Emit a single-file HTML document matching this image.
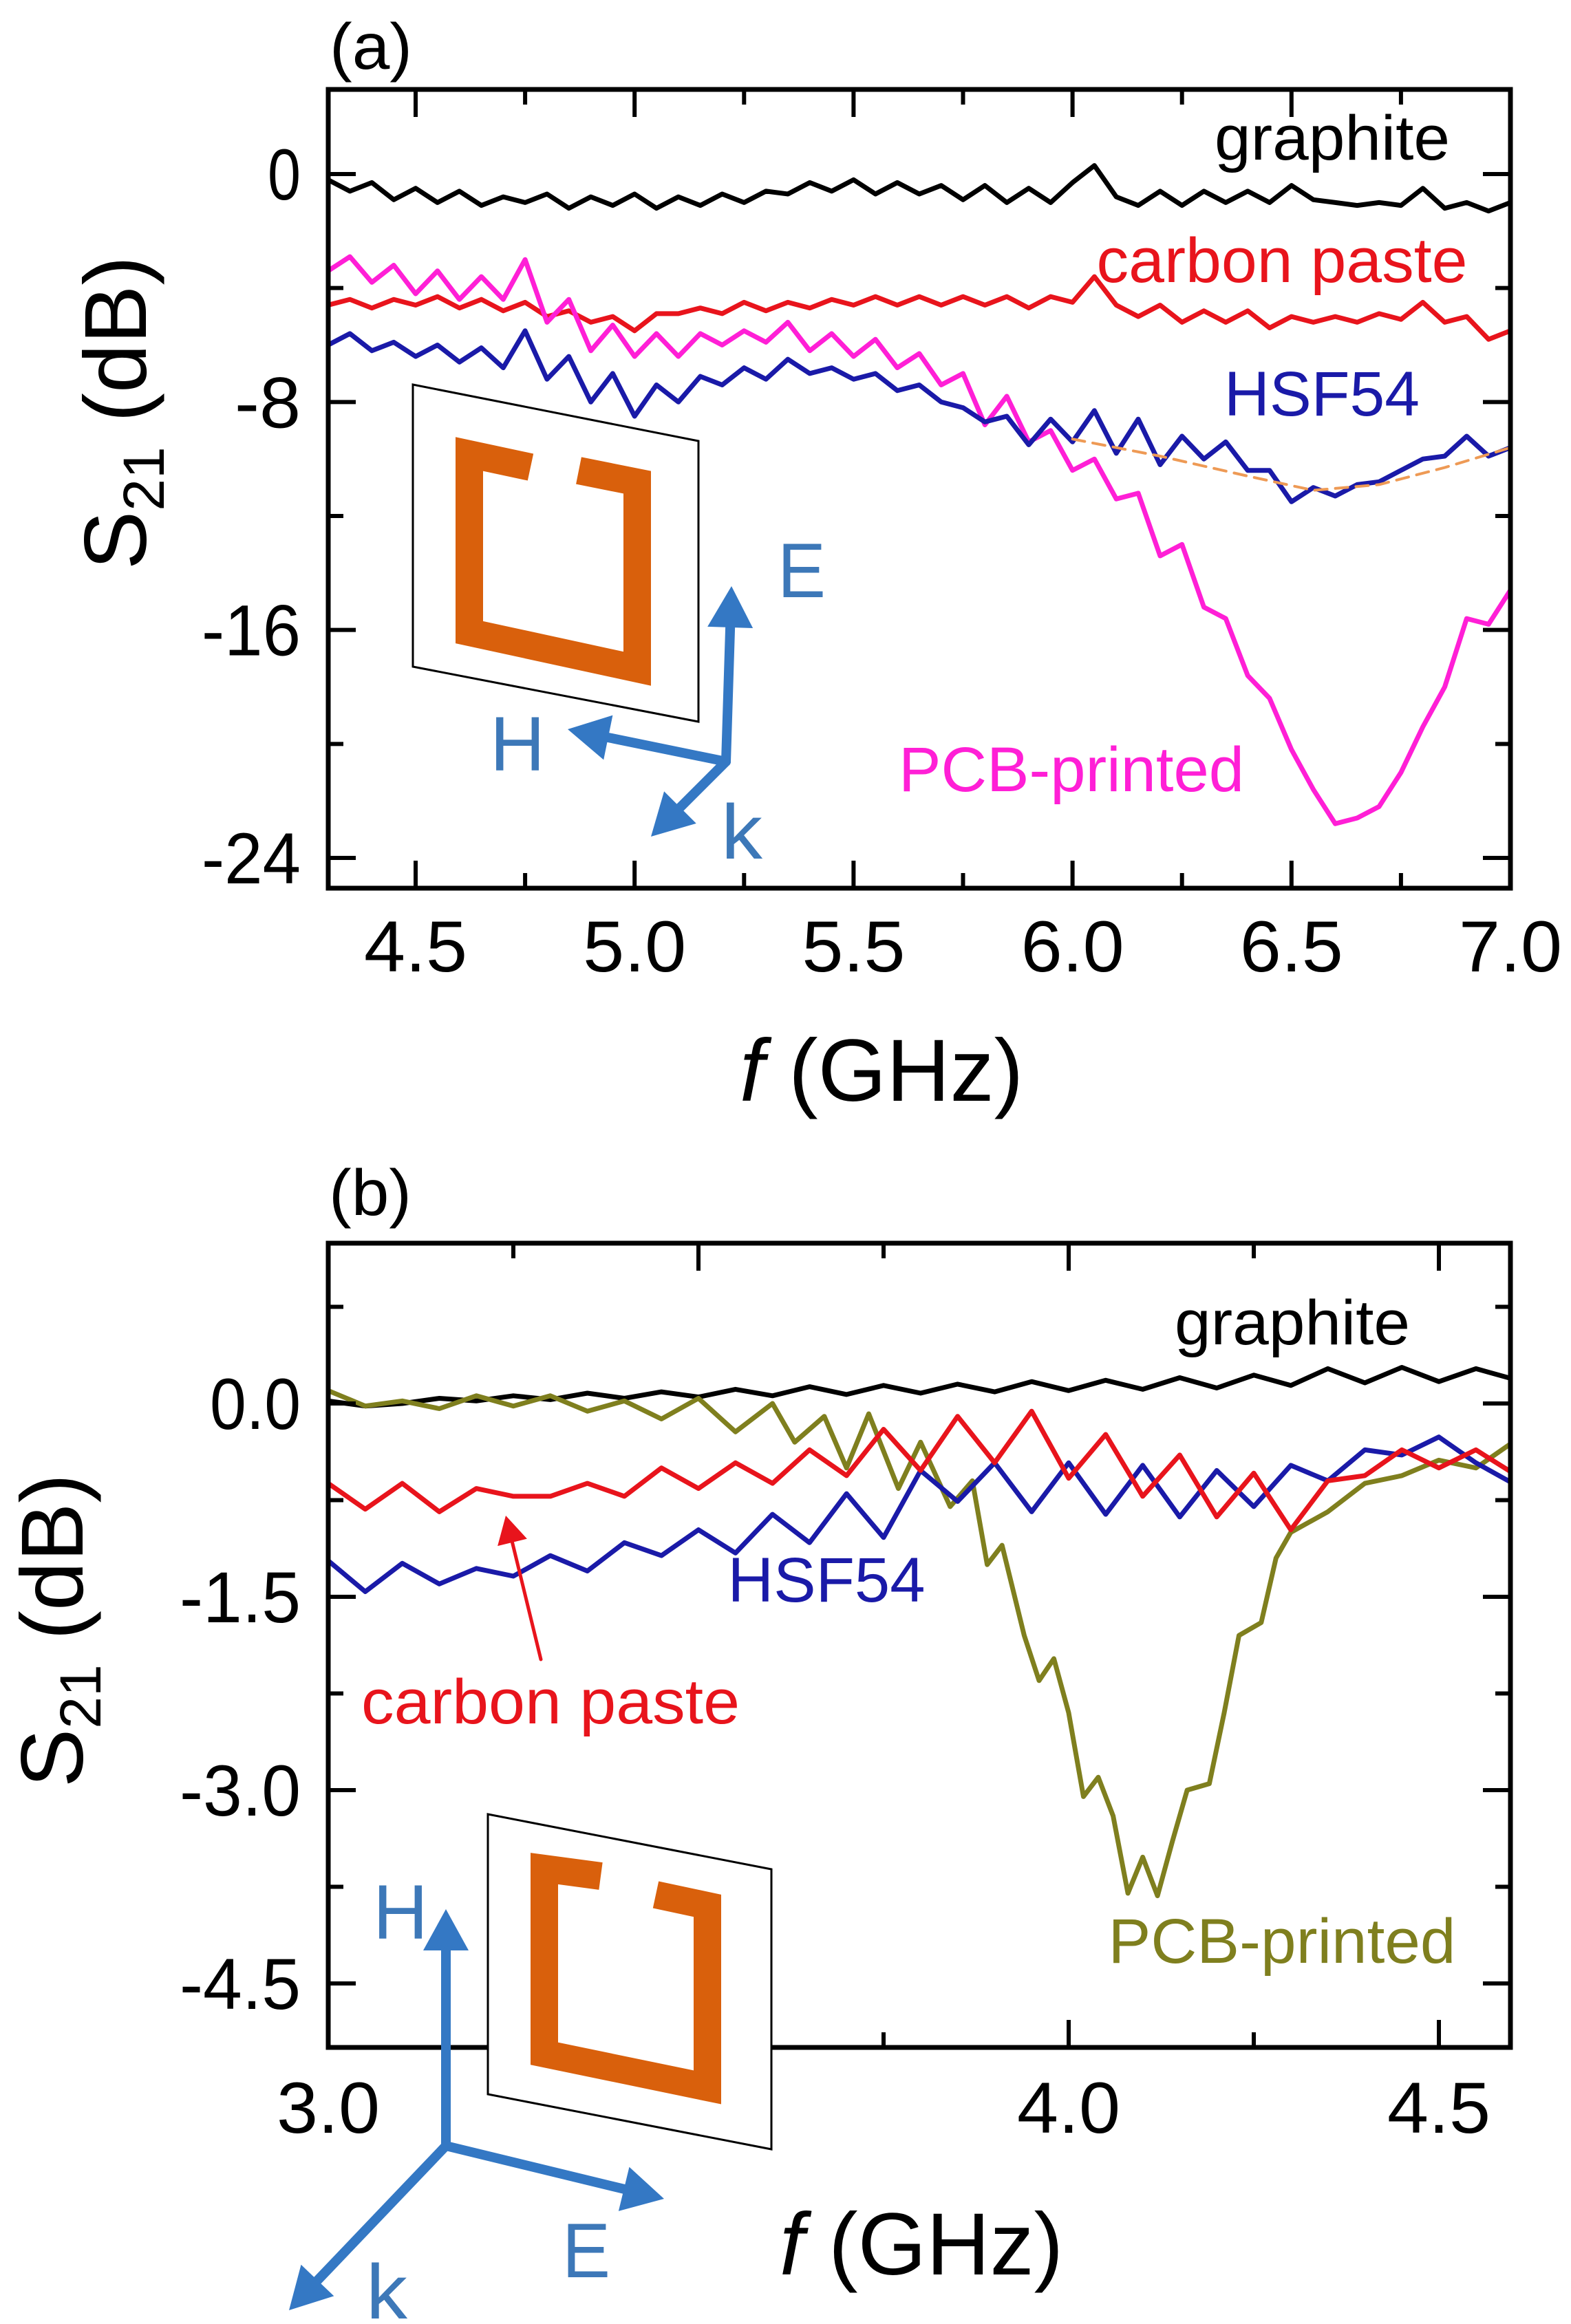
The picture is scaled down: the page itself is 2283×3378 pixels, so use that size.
<!DOCTYPE html>
<html><head><meta charset="utf-8"><style>
html,body{margin:0;padding:0;background:#fff;}
svg{display:block;font-family:"Liberation Sans",sans-serif;}
</style></head><body>
<svg id="fig" width="2283" height="3378" viewBox="0 0 2283 3378" xmlns="http://www.w3.org/2000/svg">
<rect width="2283" height="3378" fill="#fff"/>
<g id="pa"></g>
<g id="pb"></g>
</svg>
<script>
// ---------- Panel (a) data ----------
const freqA = [4.30,4.35,4.40,4.45,4.50,4.55,4.60,4.65,4.70,4.75,4.80,4.85,4.90,4.95,5.00,5.05,5.10,5.15,5.20,5.25,5.30,5.35,5.40,5.45,5.50,5.55,5.60,5.65,5.70,5.75,5.80,5.85,5.90,5.95,6.00,6.05,6.10,6.15,6.20,6.25,6.30,6.35,6.40,6.45,6.50,6.55,6.60,6.65,6.70,6.75,6.80,6.85,6.90,6.95,7.00];
const graphiteA = [-0.2,-0.6,-0.3,-0.9,-0.5,-1.0,-0.6,-1.1,-0.8,-1.0,-0.7,-1.2,-0.8,-1.1,-0.7,-1.2,-0.8,-1.1,-0.7,-1.0,-0.6,-0.7,-0.3,-0.6,-0.2,-0.7,-0.3,-0.7,-0.4,-0.9,-0.4,-1.0,-0.5,-1.0,-0.3,0.3,-0.8,-1.1,-0.6,-1.1,-0.6,-1.0,-0.6,-1.0,-0.4,-0.9,-1.0,-1.1,-1.0,-1.1,-0.5,-1.2,-1.0,-1.3,-1.0];
const carbonA = [-4.6,-4.4,-4.7,-4.4,-4.6,-4.3,-4.7,-4.4,-4.8,-4.5,-5.0,-4.8,-5.2,-5.0,-5.5,-4.9,-4.9,-4.7,-4.9,-4.5,-4.8,-4.5,-4.7,-4.4,-4.6,-4.3,-4.6,-4.3,-4.6,-4.3,-4.6,-4.3,-4.7,-4.3,-4.5,-3.6,-4.6,-5.0,-4.6,-5.2,-4.8,-5.2,-4.8,-5.4,-5.0,-5.2,-5.0,-5.2,-4.9,-5.1,-4.5,-5.2,-5.0,-5.8,-5.5];
const hsfA = [-6.0,-5.6,-6.2,-5.9,-6.4,-6.0,-6.6,-6.1,-6.8,-5.5,-7.2,-6.4,-8.0,-7.0,-8.5,-7.4,-8.0,-7.1,-7.4,-6.8,-7.2,-6.5,-7.0,-6.8,-7.2,-7.0,-7.6,-7.4,-8.0,-8.2,-8.7,-8.5,-9.5,-8.6,-9.4,-8.3,-9.8,-8.6,-10.2,-9.2,-10.0,-9.4,-10.4,-10.4,-11.5,-11.0,-11.3,-10.9,-10.8,-10.4,-10.0,-9.9,-9.2,-9.9,-9.6];
const pcbA = [-3.4,-2.9,-3.8,-3.2,-4.2,-3.4,-4.4,-3.6,-4.4,-3.0,-5.2,-4.4,-6.2,-5.3,-6.4,-5.6,-6.4,-5.6,-6.0,-5.5,-5.9,-5.2,-6.2,-5.6,-6.4,-5.8,-6.8,-6.3,-7.4,-7.0,-8.8,-7.8,-9.4,-9.0,-10.4,-10.0,-11.4,-11.2,-13.4,-13.0,-15.2,-15.6,-17.6,-18.4,-20.2,-21.6,-22.8,-22.6,-22.2,-21.0,-19.4,-18.0,-15.6,-15.8,-14.6];
const fitFreqA = [6.0,6.2,6.4,6.55,6.7,6.85,7.0];
const fitA = [-9.3,-9.9,-10.6,-11.1,-10.9,-10.3,-9.6];
const xTicksA = [4.5,5.0,5.5,6.0,6.5,7.0];
const xTickLabelsA = ["4.5","5.0","5.5","6.0","6.5","7.0"];
const yTicksA = [0,-8,-16,-24];
const yTickLabelsA = ["0","-8","-16","-24"];

// ---------- Panel (b) data ----------
const freqB = [3.00,3.05,3.10,3.15,3.20,3.25,3.30,3.35,3.40,3.45,3.50,3.55,3.60,3.65,3.70,3.75,3.80,3.85,3.90,3.95,4.00,4.05,4.10,4.15,4.20,4.25,4.30,4.35,4.40,4.45,4.50,4.55,4.60];
const graphiteB = [0.02,-0.02,0.0,0.04,0.02,0.06,0.03,0.08,0.04,0.09,0.05,0.11,0.06,0.13,0.07,0.14,0.08,0.15,0.09,0.17,0.10,0.18,0.11,0.20,0.12,0.22,0.14,0.27,0.16,0.28,0.17,0.27,0.19];
const carbonB = [-0.62,-0.82,-0.62,-0.84,-0.66,-0.72,-0.72,-0.62,-0.72,-0.50,-0.66,-0.46,-0.62,-0.36,-0.56,-0.20,-0.52,-0.10,-0.46,-0.06,-0.58,-0.24,-0.72,-0.40,-0.88,-0.54,-0.98,-0.60,-0.56,-0.36,-0.50,-0.36,-0.54];
const hsfB = [-1.22,-1.46,-1.24,-1.40,-1.28,-1.34,-1.18,-1.30,-1.08,-1.18,-0.98,-1.16,-0.86,-1.08,-0.70,-1.04,-0.52,-0.76,-0.46,-0.84,-0.46,-0.86,-0.48,-0.88,-0.52,-0.80,-0.48,-0.60,-0.36,-0.40,-0.26,-0.46,-0.62];
const pcbFreqB = [3.00,3.05,3.10,3.15,3.20,3.25,3.30,3.35,3.40,3.45,3.50,3.55,3.60,3.63,3.67,3.70,3.73,3.77,3.80,3.84,3.87,3.89,3.91,3.94,3.96,3.98,4.00,4.02,4.04,4.06,4.08,4.10,4.12,4.14,4.16,4.19,4.21,4.23,4.26,4.28,4.30,4.35,4.40,4.45,4.50,4.55,4.60];
const pcbB = [0.10,-0.02,0.02,-0.04,0.06,-0.02,0.06,-0.06,0.02,-0.12,0.04,-0.22,0.0,-0.30,-0.10,-0.50,-0.08,-0.66,-0.30,-0.80,-0.60,-1.25,-1.10,-1.80,-2.15,-1.98,-2.40,-3.05,-2.90,-3.20,-3.80,-3.52,-3.82,-3.40,-3.00,-2.95,-2.40,-1.80,-1.70,-1.20,-1.00,-0.84,-0.62,-0.56,-0.44,-0.50,-0.30];
const xTicksB = [3.0,4.0,4.5];
const xTickLabelsB = ["3.0","4.0","4.5"];
const yTicksB = [0,-1.5,-3.0,-4.5];
const yTickLabelsB = ["0.0","-1.5","-3.0","-4.5"];

const NS = "http://www.w3.org/2000/svg";
function mk(parent, tag, attrs, text){
  const e = document.createElementNS(NS, tag);
  for (const k in attrs) e.setAttribute(k, attrs[k]);
  if (text !== undefined) e.textContent = text;
  parent.appendChild(e);
  return e;
}
function scale(d0,d1,r0,r1){ return v => r0 + (v-d0)*(r1-r0)/(d1-d0); }

function drawAxes(g, X, Y, box, xMajor, xMinor, yMajor, yMinor){
  const [L,T,R,B] = box;
  const ax = mk(g,'g',{});
  
  
  xMajor.forEach(v=>{ const x=X(v);
    mk(ax,'line',{x1:x,y1:B,x2:x,y2:B-40,stroke:'#000','stroke-width':6});
    mk(ax,'line',{x1:x,y1:T,x2:x,y2:T+40,stroke:'#000','stroke-width':6}); });
  xMinor.forEach(v=>{ const x=X(v);
    mk(ax,'line',{x1:x,y1:B,x2:x,y2:B-22,stroke:'#000','stroke-width':6});
    mk(ax,'line',{x1:x,y1:T,x2:x,y2:T+22,stroke:'#000','stroke-width':6}); });
  yMajor.forEach(v=>{ const y=Y(v);
    mk(ax,'line',{x1:L,y1:y,x2:L+40,y2:y,stroke:'#000','stroke-width':6});
    mk(ax,'line',{x1:R,y1:y,x2:R-40,y2:y,stroke:'#000','stroke-width':6}); });
  yMinor.forEach(v=>{ const y=Y(v);
    mk(ax,'line',{x1:L,y1:y,x2:L+22,y2:y,stroke:'#000','stroke-width':6});
    mk(ax,'line',{x1:R,y1:y,x2:R-22,y2:y,stroke:'#000','stroke-width':6}); });
  const frame = mk(g,'rect',{x:L,y:T,width:R-L,height:B-T,fill:'none',stroke:'#000','stroke-width':7});
  
  
}
function series(g, X, Y, xs, ys, color, name, extra){
  const n = Math.min(xs.length, ys.length);
  let pts = [];
  for (let i=0;i<n;i++) pts.push(X(xs[i]).toFixed(1)+','+Y(ys[i]).toFixed(1));
  const p = mk(g,'polyline',Object.assign({points:pts.join(' '),fill:'none',stroke:color,'stroke-width':7,'stroke-linejoin':'round','stroke-linecap':'round'}, extra||{}));
  
  
  return p;
}
function label(g, x, y, txt, color, size, width, name, anchor){
  const t = mk(g,'text',{x:x,y:y,fill:color,'font-size':size,'text-anchor':anchor||'middle',textLength:width,lengthAdjust:'spacingAndGlyphs'},txt);
  
  
  return t;
}
function arrow(g, x1,y1,x2,y2,color,w,head,name){
  const a = Math.atan2(y2-y1,x2-x1);
  const bx = x2 - head*Math.cos(a), by = y2 - head*Math.sin(a);
  const grp = mk(g,'g',{});
  
  
  mk(grp,'line',{x1:x1,y1:y1,x2:bx,y2:by,stroke:color,'stroke-width':w,'stroke-linecap':'round'});
  const hw = head*0.55;
  const p1 = (bx - hw*Math.sin(a))+','+(by + hw*Math.cos(a));
  const p2 = (bx + hw*Math.sin(a))+','+(by - hw*Math.cos(a));
  mk(grp,'polygon',{points:x2+','+y2+' '+p1+' '+p2,fill:color});
}
const BLUE = '#3478c4', ORANGE = '#d9600c';

// ================= Panel A =================
(function(){
  const g = document.getElementById('pa');
  const box = [477,130,2195,1291];
  const X = scale(4.5,7.0,604,2195);
  const Y = scale(0,-24,253,1247);
  const defs = mk(g,'defs',{});
  const cp = mk(defs,'clipPath',{id:'clipA'});
  mk(cp,'rect',{x:box[0],y:box[1],width:box[2]-box[0],height:box[3]-box[1]});
  const data = mk(g,'g',{'clip-path':'url(#clipA)'});
  series(data,X,Y,freqA,graphiteA,'#000','graphite-line-a');
  series(data,X,Y,freqA,carbonA,'#e8141c','carbon-paste-line-a');
  series(data,X,Y,freqA,pcbA,'#ff1fd6','pcb-printed-line-a');
  series(data,X,Y,freqA,hsfA,'#1a1aa8','hsf54-line-a');
  series(data,X,Y,fitFreqA,fitA,'#ee9a55','fit-dashed-line-a',{'stroke-dasharray':'18 12','stroke-width':4});
  drawAxes(g,X,Y,box,xTicksA,[4.75,5.25,5.75,6.25,6.75],yTicksA,[-4,-12,-20]);
  xTicksA.forEach((v,i)=>{ label(g,X(v),1412,xTickLabelsA[i],'#000',105,150,'x-tick-label-a'); });
  yTicksA.forEach((v,i)=>{ const s=yTickLabelsA[i]; label(g,437,Y(v)+37,s,'#000',105,s.length*48,'y-tick-label-a','end'); });
  label(g,539,100,'(a)','#000',95,120,'panel-label-a');
  const xl = mk(g,'text',{x:1281,y:1600,'font-size':128,'text-anchor':'middle',fill:'#000'});
   
  mk(xl,'tspan',{'font-style':'italic'},'f');
  mk(xl,'tspan',{},' (GHz)');
  const yl = mk(g,'text',{x:0,y:0,'font-size':128,'text-anchor':'middle',fill:'#000',transform:'translate(212,600) rotate(-90)'});
   
  mk(yl,'tspan',{},'S');
  mk(yl,'tspan',{'font-size':84,dy:26},'21');
  mk(yl,'tspan',{dy:-26},' (dB)');
  label(g,1936,232,'graphite','#000',92,342,'legend-graphite-a');
  label(g,1863,410,'carbon paste','#e8141c',92,539,'legend-carbon-paste-a');
  label(g,1921,604,'HSF54','#1a1aa8',92,284,'legend-hsf54-a');
  label(g,1557,1150,'PCB-printed','#ff1fd6',92,502,'legend-pcb-printed-a');
  const ins = mk(g,'g',{});  
  mk(ins,'polygon',{points:'600,559 1015,641 1015,1049 600,969',fill:'none',stroke:'#000','stroke-width':3});
  mk(ins,'polyline',{points:'771,679 682,660 682,919 926,972 926,701 841,684',fill:'none',stroke:ORANGE,'stroke-width':40,'stroke-linejoin':'miter'});
  arrow(ins,1055,1107,1063,852,BLUE,14,60,'e-field-arrow-a');
  arrow(ins,1055,1107,825,1060,BLUE,14,60,'h-field-arrow-a');
  arrow(ins,1055,1107,946,1216,BLUE,14,60,'k-vector-arrow-a');
  label(ins,1130,868,'E','#3d78b8',112,70,'e-label-a','start');
  label(ins,752,1120,'H','#3d78b8',112,80,'h-label-a','middle');
  label(ins,1078,1248,'k','#3d78b8',112,60,'k-label-a','middle');
})();

// ================= Panel B =================
(function(){
  const g = document.getElementById('pb');
  const box = [477,1807,2195,2976];
  const X = scale(3.0,4.5,477,2091);
  const Y = scale(0,-4.5,2040,2883);
  const defs = mk(g,'defs',{});
  const cp = mk(defs,'clipPath',{id:'clipB'});
  mk(cp,'rect',{x:box[0],y:box[1],width:box[2]-box[0],height:box[3]-box[1]});
  const data = mk(g,'g',{'clip-path':'url(#clipB)'});
  series(data,X,Y,freqB,graphiteB,'#000','graphite-line-b');
  series(data,X,Y,pcbFreqB,pcbB,'#7f7f1e','pcb-printed-line-b');
  series(data,X,Y,freqB,hsfB,'#1a1aa8','hsf54-line-b');
  series(data,X,Y,freqB,carbonB,'#e8141c','carbon-paste-line-b');
  drawAxes(g,X,Y,box,[3.5,4.0,4.5],[3.25,3.75,4.25],yTicksB,[0.75,-0.75,-2.25,-3.75]);
  xTicksB.forEach((v,i)=>{ label(g,X(v),3100,xTickLabelsB[i],'#000',105,150,'x-tick-label-b'); });
  yTicksB.forEach((v,i)=>{ const s=yTickLabelsB[i]; label(g,437,Y(v)+37,s,'#000',105,s.length*44,'y-tick-label-b','end'); });
  label(g,538,1766,'(b)','#000',95,120,'panel-label-b');
  const xl = mk(g,'text',{x:1339,y:3306,'font-size':128,'text-anchor':'middle',fill:'#000'});
   
  mk(xl,'tspan',{'font-style':'italic'},'f');
  mk(xl,'tspan',{},' (GHz)');
  const yl = mk(g,'text',{x:0,y:0,'font-size':128,'text-anchor':'middle',fill:'#000',transform:'translate(120,2370) rotate(-90)'});
   
  mk(yl,'tspan',{},'S');
  mk(yl,'tspan',{'font-size':84,dy:26},'21');
  mk(yl,'tspan',{dy:-26},' (dB)');
  label(g,1878,1954,'graphite','#000',92,342,'legend-graphite-b');
  label(g,1201,2328,'HSF54','#1a1aa8',92,287,'legend-hsf54-b');
  label(g,800,2505,'carbon paste','#e8141c',92,550,'legend-carbon-paste-b');
  label(g,1863,2853,'PCB-printed','#7f7f1e',92,505,'legend-pcb-printed-b');
  arrow(g,786,2412,735,2203,'#e8141c',5,40,'carbon-paste-pointer-b');
  const ins = mk(g,'g',{});  
  mk(ins,'polygon',{points:'709,2637 1121,2717 1121,3124 709,3044',fill:'#fff',stroke:'#000','stroke-width':3});
  mk(ins,'polyline',{points:'873,2727 791,2716 791,2985 1028,3034 1028,2770 953,2754',fill:'none',stroke:ORANGE,'stroke-width':40,'stroke-linejoin':'miter'});
  arrow(ins,648,3119,648,2775,BLUE,14,60,'h-field-arrow-b');
  arrow(ins,648,3119,965,3196,BLUE,14,60,'e-field-arrow-b');
  arrow(ins,648,3119,420,3358,BLUE,14,60,'k-vector-arrow-b');
  label(ins,582,2818,'H','#3d78b8',112,80,'h-label-b','middle');
  label(ins,852,3310,'E','#3d78b8',112,70,'e-label-b','middle');
  label(ins,562,3370,'k','#3d78b8',112,60,'k-label-b','middle');
})();
</script>
</body></html>
